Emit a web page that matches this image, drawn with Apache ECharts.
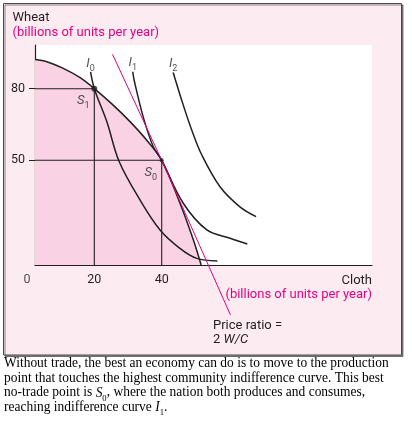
<!DOCTYPE html>
<html><head><meta charset="utf-8">
<script src="https://cdn.jsdelivr.net/npm/echarts@6/dist/echarts.min.js"></script>
<style>html,body{margin:0;padding:0;background:#fff}#c{width:412px;height:437px}</style>
</head><body><div id="c"></div>
<script>
// axis ranges / ticks
const xMin = 2.4, xMax = 102.4, yMin = 6.12, yMax = 98.3;
const xTicks = [20, 40];
const yTicks = [50, 80];
const originLabel = [[0, 0]];
// production possibility frontier
const ppf = [[2.4,92.2],[5.9,91.3],[10.8,88.5],[15.8,84.6],[20,80],[25.6,73.1],[30.6,66.2],[35.5,58.5],[40,50],[45.4,32.1],[49.4,16.6],[51.7,6.12]];
// community indifference curves
const i0 = [[18.9,87.0],[20,80],[23.7,66.2],[27.4,49.4],[33.6,33.3],[39.5,20.8],[45.4,13.1],[50.4,8.9],[56.5,7.8]];
const i1 = [[31.4,87.1],[31.9,83.0],[34.5,68.2],[37.5,55.7],[40,50],[46.4,32.0],[53.4,20.8],[60.3,17.3],[65.4,14.9]];
const i2 = [[43.4,86.8],[46.4,73.1],[48.9,62.7],[51.9,52.2],[57.3,38.9],[63.2,30.5],[68.0,26.4]];
// price line (ratio 2 W/C)
const priceLine = [[25.4,94.4],[40,50],[60.4,-14.8]];
// points
const s1 = [20, 80];
const s0 = [40, 50];
const curveNames = ['0', '1', '2'];

const INK = '#231f20', PINK = '#e6007e', FONT = 'Roboto';
const chart = echarts.init(document.getElementById('c'));

const subRich = {
  i: {fontFamily: FONT, fontSize: 13, fontStyle: 'italic', color: INK, lineHeight: 16, verticalAlign: 'bottom'},
  s: {fontFamily: FONT, fontSize: 9, color: INK, lineHeight: 12, verticalAlign: 'bottom', padding: [0, 0, -3, 0]}
};
function curve(data) {
  return {type: 'line', data: data, smooth: 0.35, symbol: 'none', z: 4, lineStyle: {color: INK, width: 1.5}};
}

const guide = (p) => [[xMin, p[1]], p, [p[0], yMin]];
const CAP = 14;
const serifRich = {
  it: {fontFamily: 'Liberation Serif', fontSize: CAP, fontStyle: 'italic', fill: '#000', lineHeight: 15, verticalAlign: 'bottom'},
  sb: {fontFamily: 'Liberation Serif', fontSize: 9, fill: '#000', lineHeight: 10, verticalAlign: 'bottom', padding: [0, 0, -3, 0]}
};
function caption(y, text) {
  return {type: 'text', x: 4, y: y, scaleX: 0.962, style: {text: text, fill: '#000', fontFamily: 'Liberation Serif', fontSize: CAP, verticalAlign: 'middle', rich: serifRich}};
}
function txt(x, y, text, color, align) {
  return {type: 'text', x: x, y: y, style: {text: text, fill: color, fontFamily: FONT, fontSize: 13, align: align || 'left', verticalAlign: 'middle',
    rich: {it: {fontFamily: FONT, fontSize: 13, fontStyle: 'italic', fill: color}}}};
}

chart.setOption({
  backgroundColor: '#ffffff',
  animation: false,
  textStyle: {fontFamily: FONT},
  grid: {left: 35, top: 45, width: 337, height: 220, show: true, backgroundColor: '#ffffff', borderWidth: 0, containLabel: false},
  xAxis: {
    type: 'value', min: xMin, max: xMax,
    axisLine: {show: true, onZero: false, lineStyle: {color: INK, width: 1.2}},
    axisTick: {show: false},
    splitLine: {show: false},
    axisLabel: {customValues: xTicks, color: INK, fontSize: 12.5, fontFamily: FONT, margin: 8}
  },
  yAxis: {
    type: 'value', min: yMin, max: yMax,
    axisLine: {show: true, onZero: false, lineStyle: {color: INK, width: 1.2}},
    axisTick: {show: true, customValues: yTicks, length: 6, lineStyle: {color: INK, width: 1}},
    splitLine: {show: false},
    axisLabel: {customValues: yTicks, color: INK, fontSize: 12.5, fontFamily: FONT, margin: 10}
  },
  graphic: [
    {type: 'rect', z: -10, shape: {x: 3.5, y: 3.5, width: 398, height: 351.5},
     style: {fill: '#fdebf2', stroke: '#4a4a4a', lineWidth: 1, shadowColor: 'rgba(0,0,0,0.45)', shadowOffsetX: 1.5, shadowOffsetY: 1.5, shadowBlur: 0}},
    txt(12.5, 18, 'Wheat', INK),
    txt(12.5, 32.5, '(billions of units per year)', PINK),
    txt(372, 280.5, 'Cloth', INK, 'right'),
    txt(372, 295, '(billions of units per year)', PINK, 'right'),
    txt(213, 325.5, 'Price ratio =', INK),
    txt(213, 339.5, '2 {it|W/C}', INK),
    caption(363.5, 'Without trade, the best an economy can do is to move to the production'),
    caption(378, 'point that touches the highest community indifference curve. This best'),
    caption(392.5, 'no-trade point is {it|S}{sb|0}, where the nation both produces and consumes,'),
    caption(407, 'reaching indifference curve {it|I}{sb|1}.')
  ],
  series: [
    {type: 'line', data: ppf, smooth: 0.35, symbol: 'none', z: 3,
     lineStyle: {color: INK, width: 1.5}, areaStyle: {color: '#f9d3e3', opacity: 1, origin: 'start'}},
    {type: 'line', data: guide(s1), symbol: 'none', z: 3, lineStyle: {color: INK, width: 1.1}},
    {type: 'line', data: guide(s0), symbol: 'none', z: 3, lineStyle: {color: INK, width: 1.1}},
    curve(i0), curve(i1), curve(i2),
    {type: 'line', data: priceLine, symbol: 'none', clip: false, z: 5, lineStyle: {color: PINK, width: 1}},
    {type: 'scatter', z: 6, clip: false,
     data: [
       {value: s1, symbolSize: 6, label: {show: true, position: 'bottom', distance: 0, offset: [-11, 0], formatter: '{i|S}{s|1}', rich: subRich}},
       {value: s0, symbolSize: 4, label: {show: true, position: 'bottom', distance: 1, offset: [-11, 0], formatter: '{i|S}{s|0}', rich: subRich}}
     ],
     itemStyle: {color: INK}},
    {type: 'scatter', z: 6, clip: false, symbolSize: 0, data: [i0[0], i1[0], i2[0]],
     label: {show: true, position: 'top', distance: 2, formatter: (p) => '{i|I}{s|' + curveNames[p.dataIndex] + '}', rich: subRich}},
    {type: 'scatter', z: 6, clip: false, symbolSize: 0, data: originLabel,
     label: {show: true, position: 'inside', formatter: '0', color: INK, fontSize: 12.5, fontFamily: FONT}}
  ]
});
</script></body></html>
